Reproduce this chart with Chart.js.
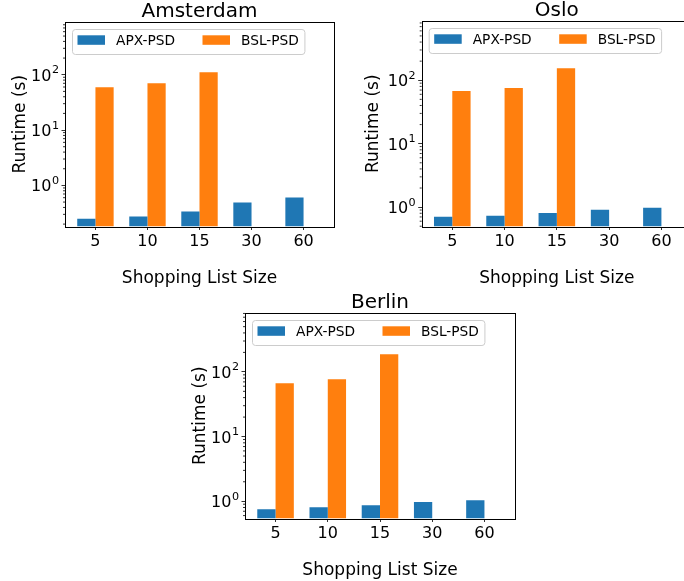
<!DOCTYPE html>
<html>
<head>
<meta charset="utf-8">
<script src="https://cdn.jsdelivr.net/npm/chart.js@4.4.1/dist/chart.umd.min.js"></script>
<style>
  html, body { margin: 0; padding: 0; background: #fff; width: 684px; height: 581px; overflow: hidden; position: relative; }
  canvas { position: absolute; }
</style>
</head>
<body>
<canvas id="amsterdam"></canvas>
<canvas id="oslo"></canvas>
<canvas id="berlin"></canvas>
<script>
// Shopping list sizes on the x axis
const sizes = ['5', '10', '15', '30', '60'];
const seriesNames = ['APX-PSD', 'BSL-PSD'];

// Runtime in seconds per city (BSL-PSD has no runs for 30 and 60)
const amsterdamApx = [0.249, 0.274, 0.338, 0.492, 0.606];
const amsterdamBsl = [59.6, 70.4, 111, null, null];
const osloApx = [0.705, 0.73, 0.81, 0.91, 0.975];
const osloBsl = [67.4, 75.2, 155, null, null];
const berlinApx = [0.75, 0.81, 0.87, 0.97, 1.04];
const berlinBsl = [66.7, 76.9, 187, null, null];

// Major tick values on the log axis
const yMajorTicks = [1, 10, 100];

const FONT = "'DejaVu Sans'";
const COLORS = ['#1f77b4', '#ff7f0e'];

Chart.defaults.font.family = FONT;
Chart.defaults.color = '#000';

// Axes frame, log tick labels with raised exponents, minor ticks and an in-axes legend
const axesDecor = {
  id: 'axesDecor',
  afterDatasetsDraw(chart) {
    const { ctx, chartArea: a } = chart;
    const y = chart.scales.y;
    ctx.save();

    // minor ticks of the logarithmic axis
    ctx.strokeStyle = '#000';
    ctx.lineWidth = 0.8;
    ctx.beginPath();
    const lo = Math.floor(Math.log10(y.min)), hi = Math.ceil(Math.log10(y.max));
    for (let d = lo; d <= hi; d++) {
      for (let k = 2; k <= 9; k++) {
        const v = k * Math.pow(10, d);
        if (v < y.min || v > y.max) continue;
        const py = y.getPixelForValue(v);
        ctx.moveTo(a.left - 2, py);
        ctx.lineTo(a.left, py);
      }
    }
    ctx.stroke();

    // major tick labels as 10 with a superscript exponent
    ctx.fillStyle = '#000';
    ctx.textAlign = 'left';
    ctx.textBaseline = 'alphabetic';
    const right = a.left - 3.5 - 2.5;
    y.ticks.forEach(t => {
      const py = y.getPixelForValue(t.value);
      const exp = String(Math.round(Math.log10(t.value)));
      ctx.font = '11.2px ' + FONT;
      const wExp = ctx.measureText(exp).width;
      ctx.font = '16px ' + FONT;
      const wBase = ctx.measureText('10').width;
      ctx.fillText('10', right - wExp - wBase - 0.5, py + 6);
      ctx.font = '11.2px ' + FONT;
      ctx.fillText(exp, right - wExp, py - 1.5);
    });

    // axes frame
    ctx.lineWidth = 1;
    ctx.strokeStyle = '#000';
    ctx.strokeRect(Math.round(a.left) + 0.5, Math.round(a.top) + 0.5,
                   Math.round(a.right) - Math.round(a.left), Math.round(a.bottom) - Math.round(a.top));

    // legend, two columns in the upper-left corner
    const em = 13.75;
    ctx.font = em + 'px ' + FONT;
    const items = chart.data.datasets.map(ds => ({
      label: ds.label, color: ds.backgroundColor, w: ctx.measureText(ds.label).width
    }));
    const pad = 0.4 * em, handle = 2 * em, gap = 0.8 * em, colSpace = 2 * em;
    const boxW = pad * 2 + items.reduce((s, it) => s + handle + gap + it.w, 0) + colSpace * (items.length - 1);
    const boxH = 25;
    const bx = a.left + 7, by = a.top + 7;
    ctx.beginPath();
    ctx.roundRect(bx + 0.5, by + 0.5, boxW, boxH, 3);
    ctx.fillStyle = 'rgba(255,255,255,0.8)';
    ctx.fill();
    ctx.strokeStyle = '#cccccc';
    ctx.lineWidth = 1;
    ctx.stroke();
    let x = bx + pad;
    items.forEach(it => {
      ctx.fillStyle = it.color;
      ctx.fillRect(x, by + 6.3, handle, 9.5);
      x += handle + gap;
      ctx.fillStyle = '#000';
      ctx.fillText(it.label, x, by + 16);
      x += it.w + colSpace;
    });
    ctx.restore();
  }
};

function makePanel(id, geom, city, apx, bsl, yRange) {
  const canvas = document.getElementById(id);
  canvas.width = geom.width;
  canvas.height = geom.height;
  canvas.style.left = geom.left + 'px';
  canvas.style.top = geom.top + 'px';

  const toPoints = arr => arr.map((v, i) => ({ x: i, y: v }));

  return new Chart(canvas, {
    type: 'bar',
    data: {
      datasets: [
        { label: seriesNames[0], data: toPoints(apx), backgroundColor: COLORS[0] },
        { label: seriesNames[1], data: toPoints(bsl), backgroundColor: COLORS[1] }
      ]
    },
    options: {
      responsive: false,
      animation: false,
      devicePixelRatio: 1,
      barPercentage: 1,
      categoryPercentage: 0.7,
      layout: { padding: { left: 0, right: 6, top: 0, bottom: 0 } },
      plugins: {
        legend: { display: false },
        tooltip: { enabled: false },
        title: {
          display: true, text: city, fullSize: false, color: '#000',
          font: { family: FONT, size: 20, weight: 'normal', lineHeight: 1 },
          padding: { top: 0, bottom: 0 }
        }
      },
      scales: {
        x: {
          type: 'linear',
          min: -0.585, max: 4.585,
          offset: false,
          afterBuildTicks: s => { s.ticks = sizes.map((_, i) => ({ value: i })); },
          afterFit: s => { s.height = geom.xAxisHeight; },
          ticks: {
            callback: v => sizes[v], autoSkip: false, maxRotation: 0,
            color: '#000', padding: 2, font: { family: FONT, size: 16 }
          },
          grid: { offset: false, drawOnChartArea: false, tickLength: 3.5, tickColor: '#000', tickWidth: 0.8 },
          border: { display: false },
          title: {
            display: true, text: 'Shopping List Size', color: '#000',
            font: { family: FONT, size: 17 }, padding: { top: 0, bottom: 0 }
          }
        },
        y: {
          type: 'logarithmic',
          min: yRange[0], max: yRange[1],
          afterBuildTicks: s => {
            s.ticks = yMajorTicks.filter(v => v >= s.min && v <= s.max).map(v => ({ value: v, major: true }));
          },
          afterFit: s => { s.width = geom.yAxisWidth; },
          ticks: { display: false },
          grid: { drawOnChartArea: false, tickLength: 3.5, tickColor: '#000', tickWidth: 0.8 },
          border: { display: false },
          title: {
            display: true, text: 'Runtime (s)', color: '#000',
            font: { family: FONT, size: 17 }, padding: { top: 10, bottom: 0 }
          }
        }
      }
    },
    plugins: [axesDecor]
  });
}

makePanel('amsterdam', { left: 0, top: 2, width: 340, height: 287, yAxisWidth: 65, xAxisHeight: 62.5 },
          'Amsterdam', amsterdamApx, amsterdamBsl, [0.181, 897]);
makePanel('oslo', { left: 353, top: 1, width: 345, height: 288, yAxisWidth: 68.7, xAxisHeight: 62.5 },
          'Oslo', osloApx, osloBsl, [0.495, 859]);
makePanel('berlin', { left: 180, top: 293, width: 341, height: 288, yAxisWidth: 65, xAxisHeight: 62.5 },
          'Berlin', berlinApx, berlinBsl, [0.541, 813]);
</script>
</body>
</html>
